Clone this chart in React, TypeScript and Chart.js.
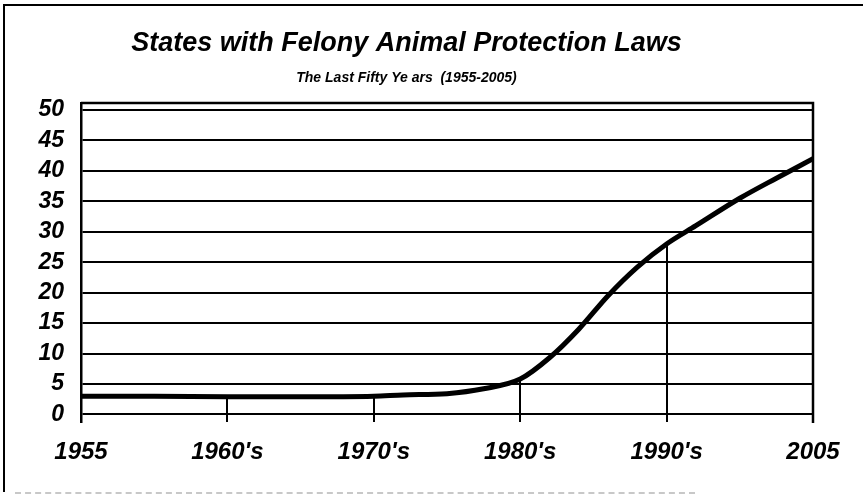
import React, { useEffect, useRef } from 'react';
import { Chart, registerables } from 'chart.js';

Chart.register(...registerables);

// ---- data ----
const years = [1955, 1960, 1965, 1970, 1975, 1977, 1980, 1982.5, 1985, 1987, 1989, 1991, 1993, 1995, 1997, 2000, 2002.5, 2005];
const states = [3, 3, 2.9, 2.9, 3, 3.2, 3.4, 4.2, 5.8, 9.3, 14, 19.5, 24.2, 28, 31, 35.5, 38.8, 42];
const tickYears = [1955, 1965, 1975, 1985, 1995, 2005];
const tickLabels = ['1955', "1960's", "1970's", "1980's", "1990's", '2005'];
const dropYears = [1965, 1975, 1985, 1995];
const yTicks = [0, 5, 10, 15, 20, 25, 30, 35, 40, 45, 50];
const titleText = 'States with Felony Animal Protection Laws';
const subtitleText = 'The Last Fifty Ye ars  (1955-2005)';

const FONT = "'Liberation Sans', Arial, Helvetica, sans-serif";

const framePlugin = {
  id: 'frameAndDrops',
  beforeDatasetsDraw(chart: any) {
    const { ctx, chartArea, scales } = chart;
    const xs = scales.x;
    const ys = scales.y;
    ctx.save();
    ctx.strokeStyle = '#000';
    ctx.lineWidth = 2;
    // drop lines from the curve to the bottom of the plot
    dropYears.forEach((yr) => {
      const i = years.indexOf(yr);
      if (i < 0) return;
      const px = Math.round(xs.getPixelForValue(yr));
      const py = ys.getPixelForValue(states[i]);
      ctx.beginPath();
      ctx.moveTo(px, py);
      ctx.lineTo(px, chartArea.bottom);
      ctx.stroke();
    });
    // top and right frame
    ctx.lineWidth = 2.5;
    ctx.beginPath();
    ctx.moveTo(chartArea.left, chartArea.top);
    ctx.lineTo(chartArea.right, chartArea.top);
    ctx.lineTo(chartArea.right, chartArea.bottom + 1);
    ctx.stroke();
    ctx.restore();
  },
};

export default function App() {
  const ref = useRef<HTMLCanvasElement | null>(null);

  useEffect(() => {
    if (!ref.current) return;
    const chart = new Chart(ref.current, {
      type: 'line',
      data: {
        datasets: [
          {
            data: years.map((y, i) => ({ x: y, y: states[i] })),
            borderColor: '#000',
            borderWidth: 5,
            pointRadius: 0,
            cubicInterpolationMode: 'monotone',
            borderCapStyle: 'round',
            borderJoinStyle: 'round',
            fill: false,
          },
        ],
      },
      options: {
        responsive: false,
        animation: false,
        devicePixelRatio: 1,
        layout: { padding: { left: 0, right: 50, top: 0, bottom: 0 } },
        plugins: {
          legend: { display: false },
          tooltip: { enabled: false },
          title: {
            display: true,
            text: titleText,
            color: '#000',
            font: { family: FONT, size: 27, weight: 'bold', style: 'italic', lineHeight: 1.2 },
            padding: { top: 27.8, bottom: 0 },
          },
          subtitle: {
            display: true,
            text: subtitleText,
            color: '#000',
            font: { family: FONT, size: 14, weight: 'bold', style: 'italic', lineHeight: 1.2 },
            padding: { top: 9.4, bottom: 16.6 },
          },
        },
        scales: {
          x: {
            type: 'linear',
            min: 1955,
            max: 2005,
            afterBuildTicks: (axis: any) => {
              axis.ticks = tickYears.map((v) => ({ value: v }));
            },
            afterFit: (scale: any) => {
              scale.height = 79;
            },
            grid: { display: false, drawTicks: false },
            border: { display: false },
            ticks: {
              autoSkip: false,
              maxRotation: 0,
              padding: 15.6,
              color: '#000',
              font: { family: FONT, size: 24, weight: 'bold', style: 'italic', lineHeight: 1.2 },
              callback: (_v: any, i: number) => tickLabels[i],
            },
          },
          y: {
            type: 'linear',
            min: -1.25,
            max: 51.15,
            afterBuildTicks: (axis: any) => {
              axis.ticks = yTicks.map((v) => ({ value: v }));
            },
            afterFit: (scale: any) => {
              scale.width = 81;
            },
            grid: { color: '#000', lineWidth: 2, drawTicks: false },
            border: { display: true, color: '#000', width: 2.5 },
            ticks: {
              padding: 17,
              color: '#000',
              font: { family: FONT, size: 23, weight: 'bold', style: 'italic', lineHeight: 1.2 },
              callback: (v: any) => String(v),
            },
          },
        },
      },
      plugins: [framePlugin],
    } as any);
    return () => chart.destroy();
  }, []);

  return (
    <div
      style={{
        position: 'absolute',
        left: 0,
        top: 0,
        width: 863,
        height: 501,
        overflow: 'hidden',
        background: '#fff',
      }}
    >
      <div
        style={{
          position: 'absolute',
          left: 3,
          top: 4,
          width: 900,
          height: 486,
          borderLeft: '2px solid #000',
          borderTop: '2px solid #000',
        }}
      />
      <div
        style={{
          position: 'absolute',
          left: 15,
          top: 492,
          width: 680,
          height: 0,
          borderTop: '2px dashed #c8c8c8',
        }}
      />
      <canvas
        ref={ref}
        width={863}
        height={501}
        style={{ position: 'absolute', left: 0, top: 0, width: 863, height: 501 }}
      />
    </div>
  );
}
